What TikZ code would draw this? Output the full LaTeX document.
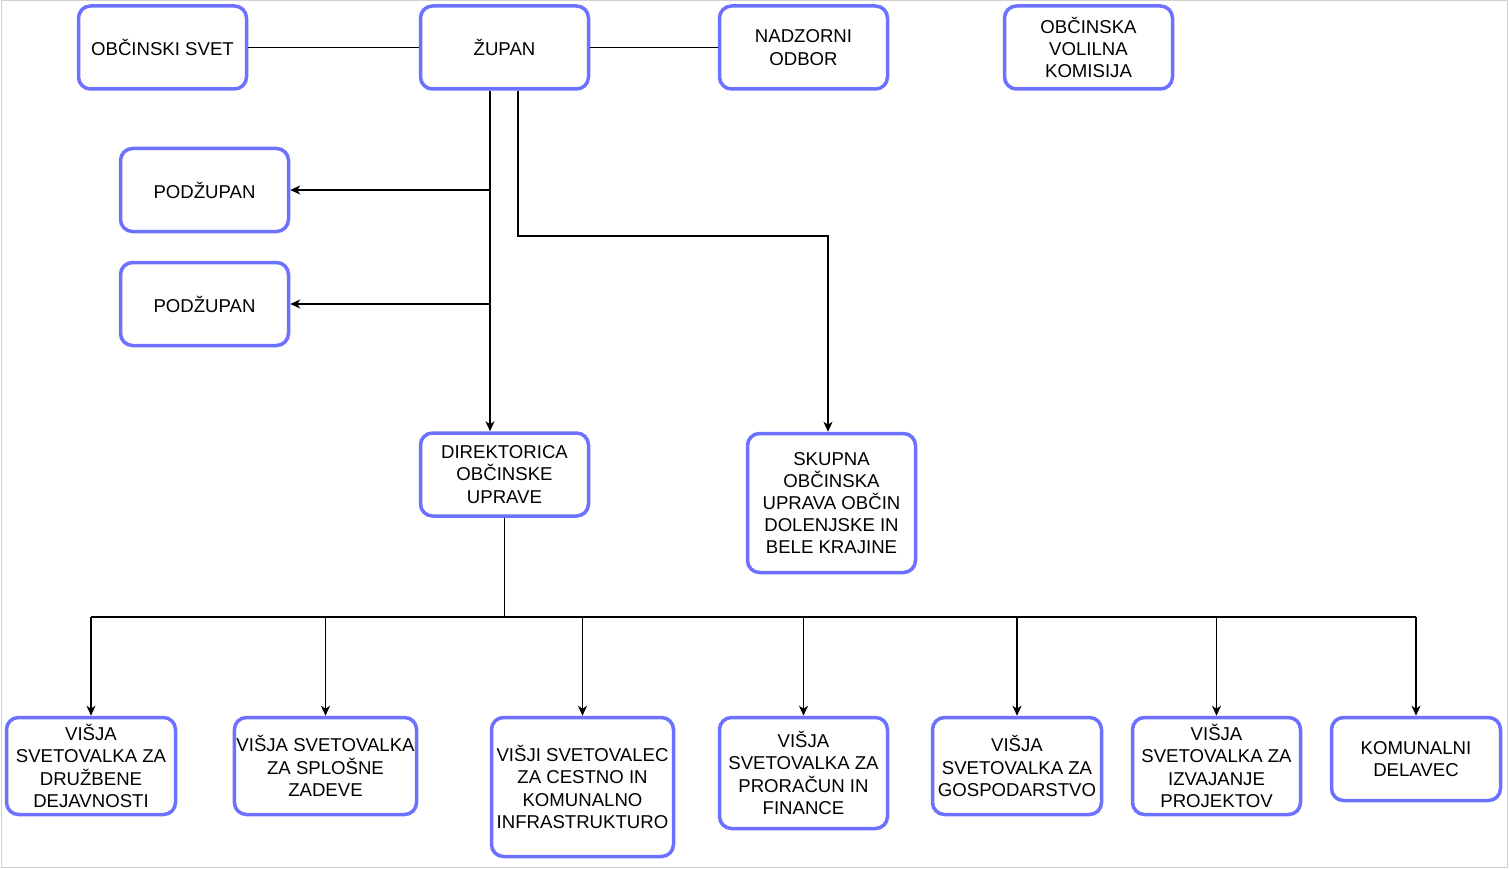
\documentclass[tikz,border=0pt]{standalone}
\usepackage{fontspec}
\setmainfont{Liberation Sans}
\usetikzlibrary{arrows.meta}

\definecolor{boxblue}{RGB}{108,114,255}

\newcommand*{\boxw}{168pt}
\newcommand*{\boxh}{83pt}

\begin{document}
\begin{tikzpicture}
[
	x=1pt, y=-1pt,
	unit/.style={draw=boxblue, line width=3.5pt, rounded corners=12pt, fill=white, align=center, inner sep=2pt, minimum width=\boxw, minimum height=\boxh, font=\fontsize{18.6}{22.2}\selectfont},
	link/.style={line width=1.3pt},
	arr/.style={link, -{Stealth[length=10pt,width=9pt,inset=3pt]}}
]

	% frame
	\useasboundingbox (0,0) rectangle (1509,869);
	\draw[black!18, line width=1pt] (1,1) rectangle (1507,867);

	% top row
	\node[unit] (svet) at (162.5,47.5) {OBČINSKI SVET};
	\node[unit] (zupan) at (504.5,47.5) {ŽUPAN};
	\node[unit] (nadzor) at (803.5,47.5) {NADZORNI\\ODBOR};
	\node[unit] (komisija) at (1088.5,47.5) {OBČINSKA\\VOLILNA\\KOMISIJA};

	\node[unit] (podzupanA) at (204.5,190) {PODŽUPAN};
	\node[unit] (podzupanB) at (204.5,304) {PODŽUPAN};

	\node[unit] (direktor) at (504.5,474.5) {DIREKTORICA\\OBČINSKE\\UPRAVE};
	\node[unit, minimum height=139pt] (skupna) at (831.5,503) {SKUPNA\\OBČINSKA\\UPRAVA OBČIN\\DOLENJSKE IN\\BELE KRAJINE};

	% bottom row
	\node[unit, minimum height=97pt, minimum width=169pt] (druzbene) at (91,766) {VIŠJA\\SVETOVALKA ZA\\DRUŽBENE\\DEJAVNOSTI};
	\node[unit, minimum height=97pt, minimum width=182pt] (splosne) at (325.5,766) {VIŠJA SVETOVALKA\\ZA SPLOŠNE\\ZADEVE};
	\node[unit, minimum height=139pt, minimum width=182pt] (cestno) at (582.5,787) {VIŠJI SVETOVALEC\\ZA CESTNO IN\\KOMUNALNO\\INFRASTRUKTURO};
	\node[unit, minimum height=111pt] (financa) at (803.5,773) {VIŠJA\\SVETOVALKA ZA\\PRORAČUN IN\\FINANCE};
	\node[unit, minimum height=97pt, minimum width=169pt] (gosp) at (1017,766) {VIŠJA\\SVETOVALKA ZA\\GOSPODARSTVO};
	\node[unit, minimum height=97pt] (projekti) at (1216.5,766) {VIŠJA\\SVETOVALKA ZA\\IZVAJANJE\\PROJEKTOV};
	\node[unit, minimum width=169pt] (delavec) at (1416,759) {KOMUNALNI\\DELAVEC};

	% connectors
	\draw[link] (svet) -- (zupan);
	\draw[link] (zupan) -- (nadzor);

	\coordinate (zupanL) at ([xshift=-14.5pt]zupan.south);
	\coordinate (zupanR) at ([xshift=13.5pt]zupan.south);
	\coordinate (bend) at (828,236);
	\draw[arr] (zupanL) -- (zupanL |- direktor.north);
	\draw[arr] (zupanL |- podzupanA.east) -- (podzupanA.east);
	\draw[arr] (zupanL |- podzupanB.east) -- (podzupanB.east);
	\draw[arr] (zupanR) |- (bend) -- (bend |- skupna.north);

	\coordinate (bus) at (504.5,617);
	\draw[link] (direktor) -- (bus);
	\draw[link] (bus -| druzbene.north) -- (bus -| delavec.north);
	\foreach \n in {druzbene,splosne,cestno,financa,gosp,projekti,delavec}
		\draw[arr] (bus -| \n.north) -- (\n.north);

\end{tikzpicture}
\end{document}
